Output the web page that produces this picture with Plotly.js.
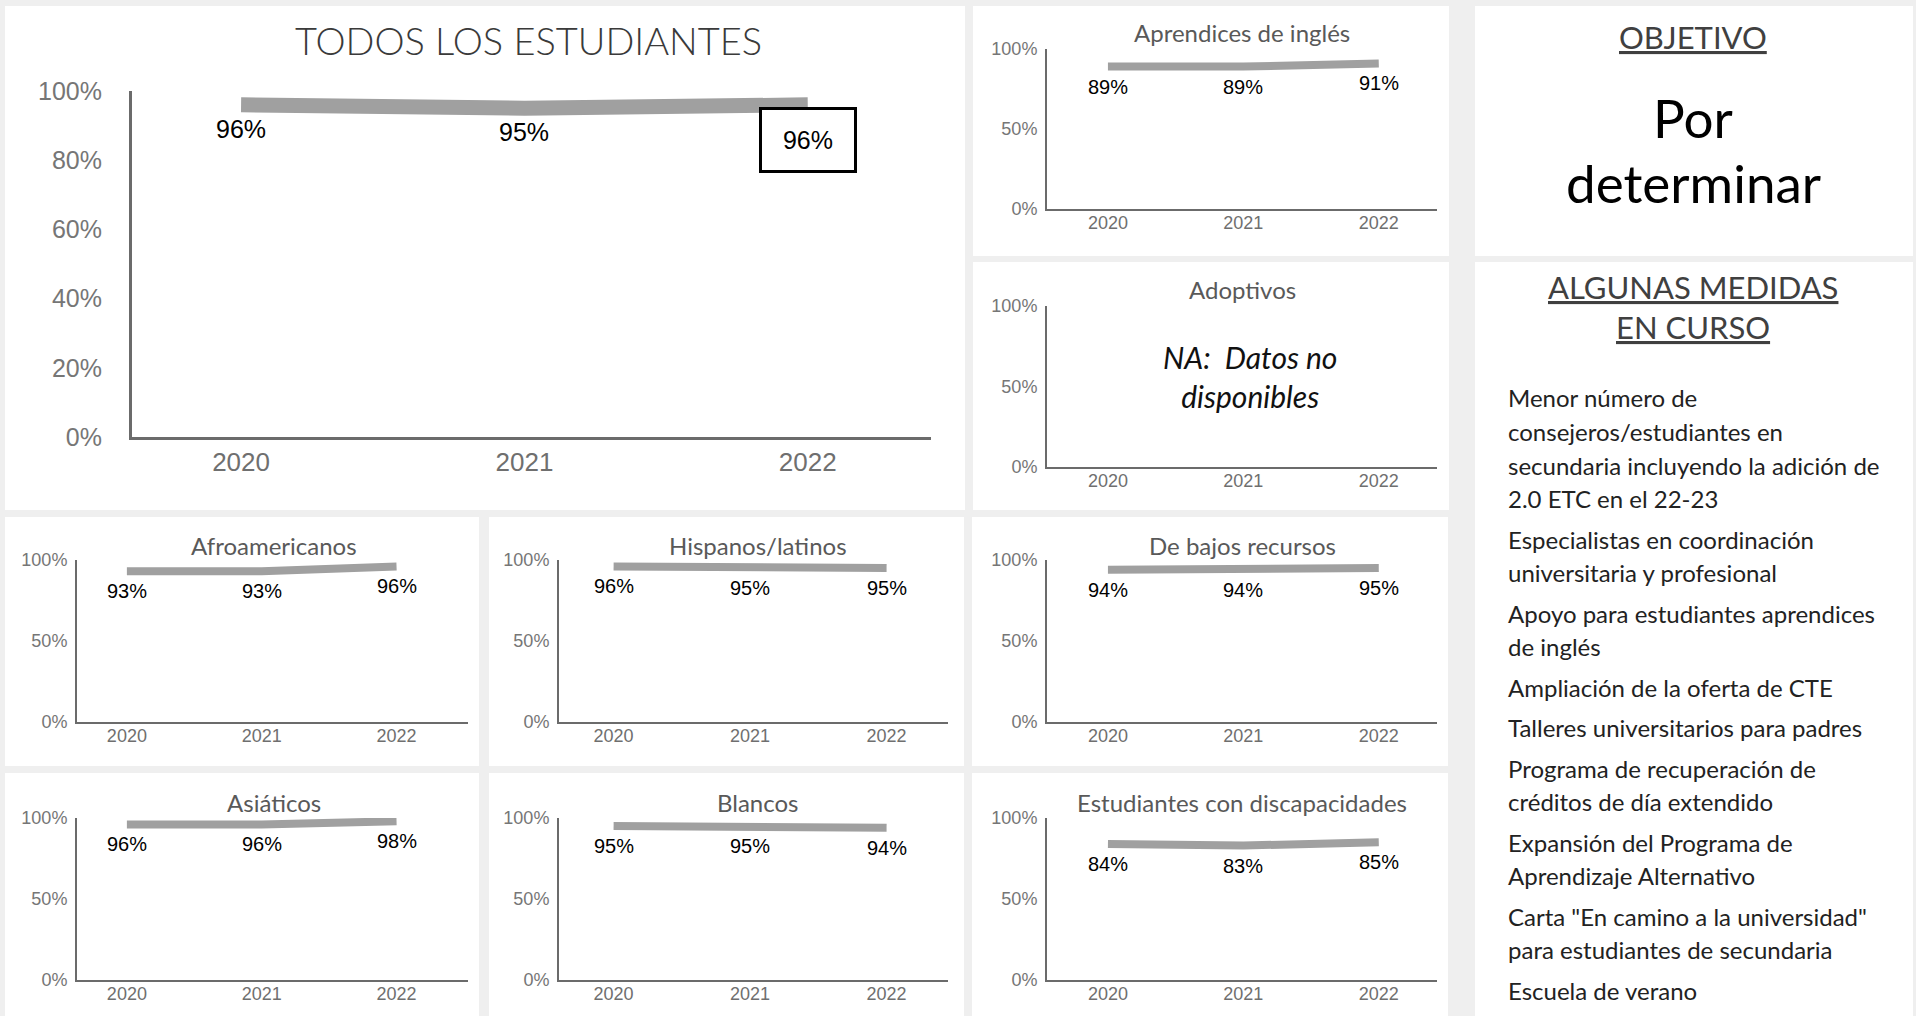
<!DOCTYPE html>
<html>
<head>
<meta charset="utf-8">
<script src="https://cdn.plot.ly/plotly-3.0.1.min.js"></script>
<style>html,body{margin:0;padding:0;background:#efefef;}#chart{width:1916px;height:1016px;}</style>
</head>
<body>
<div id="chart"></div>
<script>
// ---------------- DATA ----------------
const years = ['2020', '2021', '2022'];
const todosLosEstudiantes = [96, 95, 96];
const aprendicesIngles = [89, 89, 91];
const adoptivos = [null, null, null];
const afroamericanos = [93, 93, 96];
const hispanosLatinos = [96, 95, 95];
const bajosRecursos = [94, 94, 95];
const asiaticos = [96, 96, 98];
const blancos = [95, 95, 94];
const discapacidades = [84, 83, 85];

const mainTicks = [0, 20, 40, 60, 80, 100];
const smallTicks = [0, 50, 100];

const objetivoTitle = 'OBJETIVO';
const objetivoLines = ['Por', 'determinar'];
const medidasTitle = ['ALGUNAS MEDIDAS', 'EN CURSO'];
const medidas = [
  ['Menor número de', 'consejeros/estudiantes en', 'secundaria incluyendo la adición de', '2.0 ETC en el 22-23'],
  ['Especialistas en coordinación', 'universitaria y profesional'],
  ['Apoyo para estudiantes aprendices', 'de inglés'],
  ['Ampliación de la oferta de CTE'],
  ['Talleres universitarios para padres'],
  ['Programa de recuperación de', 'créditos de día extendido'],
  ['Expansión del Programa de', 'Aprendizaje Alternativo'],
  ['Carta "En camino a la universidad"', 'para estudiantes de secundaria'],
  ['Escuela de verano']
];
const naText = 'NA:  Datos no<br>disponibles';

// ---------------- LAYOUT HELPERS ----------------
const W = 1916, H = 1016;
const px = x => x / W;
const py = y => 1 - y / H;
const TITLE_FONT = 'Lato, "Noto Sans", sans-serif';
const NUM_FONT = '"Liberation Sans", Arial, sans-serif';

const charts = [
  {title: 'TODOS LOS ESTUDIANTES', data: todosLosEstudiantes, main: true,
   box: [132, 931, 91, 437], xr: [-0.385, 2.435], t: [528, 40]},
  {title: 'Aprendices de inglés', data: aprendicesIngles, box: [1047, 1437, 49, 209], xr: [-0.45, 2.43], t: [1242, 33]},
  {title: 'Adoptivos', data: adoptivos, box: [1047, 1437, 306, 467], xr: [-0.45, 2.43], t: [1242, 290], na: true},
  {title: 'Afroamericanos', data: afroamericanos, box: [77, 468, 560, 722], xr: [-0.37, 2.53], t: [274, 545]},
  {title: 'Hispanos/latinos', data: hispanosLatinos, box: [559, 948, 560, 722], xr: [-0.4, 2.45], t: [758, 545]},
  {title: 'De bajos recursos', data: bajosRecursos, box: [1047, 1437, 560, 722], xr: [-0.45, 2.43], t: [1242, 545]},
  {title: 'Asiáticos', data: asiaticos, box: [77, 468, 818, 980], xr: [-0.37, 2.53], t: [274, 802]},
  {title: 'Blancos', data: blancos, box: [559, 948, 818, 980], xr: [-0.4, 2.45], t: [758, 802]},
  {title: 'Estudiantes con discapacidades', data: discapacidades, box: [1047, 1437, 818, 980], xr: [-0.45, 2.43], t: [1242, 802]}
];

const panels = [
  [5, 965, 6, 510], [973, 1449, 6, 256], [973, 1449, 262, 510],
  [5, 479, 517, 766], [489, 964, 517, 766], [972, 1448, 517, 766],
  [5, 479, 773, 1016], [489, 964, 773, 1016], [972, 1448, 773, 1016],
  [1475, 1913, 6, 256], [1475, 1913, 262, 1016]
];

const traces = [];
const annotations = [];
const shapes = panels.map(p => ({
  type: 'rect', xref: 'paper', yref: 'paper', layer: 'below',
  x0: px(p[0]), x1: px(p[1]), y0: py(p[3]), y1: py(p[2]),
  fillcolor: '#ffffff', line: {width: 0}
}));

const layout = {
  width: W, height: H,
  margin: {l: 0, r: 0, t: 0, b: 0},
  paper_bgcolor: '#efefef', plot_bgcolor: 'rgba(0,0,0,0)',
  showlegend: false, hovermode: false,
  shapes: shapes, annotations: annotations
};

charts.forEach((c, i) => {
  const n = i === 0 ? '' : String(i + 1);
  const xa = 'x' + n, ya = 'y' + n;
  const [x0, x1, yTop, yBot] = c.box;
  const lineW = c.main ? 3 : 2;
  const yt = c.main ? mainTicks : smallTicks;
  layout['xaxis' + n] = {
    domain: [px(x0), px(x1)], anchor: ya, type: 'category', range: c.xr,
    categoryorder: 'array', categoryarray: years,
    showgrid: false, zeroline: false, showline: true, linecolor: '#6b6b6b', linewidth: lineW,
    ticks: '', ticklabelstandoff: c.main ? 0 : -4,
    tickfont: {family: NUM_FONT, size: c.main ? 26 : 18, color: '#6f6f6f'},
    fixedrange: true
  };
  layout['yaxis' + n] = {
    domain: [py(yBot), py(yTop)], anchor: xa, range: [0, 100],
    tickmode: 'array', tickvals: yt, ticktext: yt.map(v => v + '%'),
    showgrid: false, zeroline: false, showline: true, linecolor: '#6b6b6b', linewidth: lineW,
    ticks: '', ticklabelstandoff: c.main ? 22 : 4,
    tickfont: {family: NUM_FONT, size: c.main ? 25 : 18, color: '#767676'},
    fixedrange: true
  };
  traces.push({
    type: 'scatter', mode: 'lines', x: years, y: c.data, xaxis: xa, yaxis: ya,
    line: {color: '#a0a0a0', width: c.main ? 15 : 8}, cliponaxis: false, hoverinfo: 'skip'
  });
  // chart title
  annotations.push({
    xref: 'paper', yref: 'paper', x: px(c.t[0]), y: py(c.t[1]), xanchor: 'center', yanchor: 'middle',
    text: c.title, showarrow: false,
    font: {family: TITLE_FONT, size: c.main ? 38 : 24, weight: c.main ? 300 : 400,
           color: c.main ? '#3a3a3a' : '#595959'}
  });
  // data labels (x given as category index)
  c.data.forEach((v, k) => {
    if (v === null) return;
    const last = c.main && k === c.data.length - 1;
    const a = {
      xref: xa, yref: ya, x: k, y: v, text: v + '%', showarrow: false,
      xanchor: 'center', yanchor: 'middle', yshift: c.main ? (last ? -35 : -24) : -20,
      font: {family: NUM_FONT, size: c.main ? 25 : 20, color: '#000000'}
    };
    if (last) {
      a.bordercolor = '#000000'; a.borderwidth = 3; a.borderpad = 3;
      a.width = 86; a.height = 54; a.bgcolor = '#ffffff';
    }
    annotations.push(a);
  });
  if (c.na) {
    annotations.push({
      xref: 'paper', yref: 'paper', x: px(1250), y: py(376), xanchor: 'center', yanchor: 'middle',
      text: '<i>' + naText + '</i>', showarrow: false, align: 'center',
      font: {family: TITLE_FONT, size: 30, color: '#111111'}
    });
  }
});

// ---------------- RIGHT COLUMN TEXT ----------------
annotations.push({
  xref: 'paper', yref: 'paper', x: px(1693), y: py(37), xanchor: 'center', yanchor: 'middle',
  text: '<u>' + objetivoTitle + '</u>', showarrow: false,
  font: {family: TITLE_FONT, size: 31, color: '#404040'}
});
[117, 182].forEach((y, k) => annotations.push({
  xref: 'paper', yref: 'paper', x: px(1693), y: py(y), xanchor: 'center', yanchor: 'middle',
  text: objetivoLines[k], showarrow: false,
  font: {family: TITLE_FONT, size: 53, color: '#000000'}
}));
[287, 327].forEach((y, k) => annotations.push({
  xref: 'paper', yref: 'paper', x: px(1693), y: py(y), xanchor: 'center', yanchor: 'middle',
  text: '<u>' + medidasTitle[k] + '</u>', showarrow: false,
  font: {family: TITLE_FONT, size: 31, color: '#404040'}
}));
let lineIdx = 0;
medidas.forEach((item, itemIdx) => {
  item.forEach(line => {
    const y = 398 + 33.5 * lineIdx + 7 * itemIdx;
    annotations.push({
      xref: 'paper', yref: 'paper', x: px(1506), y: py(y), xanchor: 'left', yanchor: 'middle',
      text: line, showarrow: false,
      font: {family: TITLE_FONT, size: 24, color: '#222222'}
    });
    lineIdx++;
  });
});

Plotly.newPlot('chart', traces, layout, {displayModeBar: false, staticPlot: true});
</script>
</body>
</html>
